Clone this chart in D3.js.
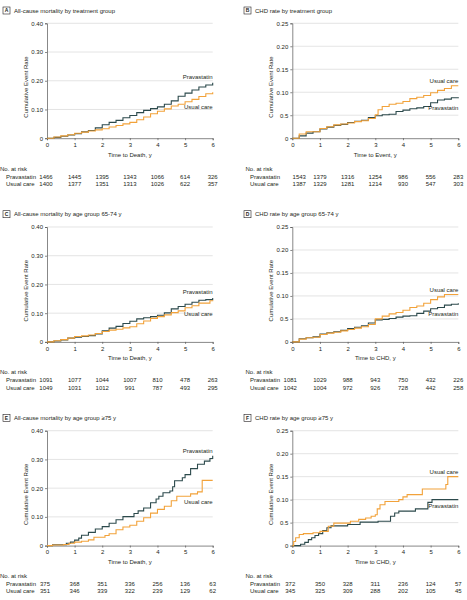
<!DOCTYPE html>
<html><head><meta charset="utf-8">
<script src="https://cdn.jsdelivr.net/npm/d3@7"></script>
<style>
body{margin:0;background:#fff}
svg{display:block}
text{font-family:"Liberation Sans","Arial",sans-serif;fill:#231f20}
</style>
</head><body><svg id="c" width="467" height="600"></svg>
<script>
// ---------- data ----------
const years = [0,1,2,3,4,5,6];
const mortTickValues = [0,0.10,0.20,0.30,0.40];
const mortTickLabels = ["0","0.10","0.20","0.30","0.40"];
const chdTickValues = [0,0.05,0.10,0.15,0.20,0.25];
const chdTickLabels = ["0","0.5","0.10","0.15","0.20","0.25"];
const groups = ["Pravastatin","Usual care"];

const aPravastatin = [[0,0],[0.25,0.003],[0.5,0.007],[0.75,0.011],[1,0.016],[1.25,0.022],[1.5,0.027],[1.75,0.036],[2,0.047],[2.25,0.055],[2.5,0.062],[2.75,0.071],[3,0.079],[3.25,0.089],[3.5,0.097],[3.75,0.103],[4,0.109],[4.25,0.118],[4.5,0.130],[4.75,0.146],[5,0.157],[5.25,0.168],[5.5,0.178],[5.75,0.185],[6,0.193]];
const aUsual = [[0,0],[0.25,0.004],[0.5,0.008],[0.75,0.012],[1,0.017],[1.25,0.021],[1.5,0.025],[1.75,0.029],[2,0.033],[2.25,0.039],[2.5,0.044],[2.75,0.050],[3,0.055],[3.25,0.064],[3.5,0.074],[3.75,0.085],[4,0.094],[4.25,0.102],[4.5,0.112],[4.75,0.118],[5,0.127],[5.25,0.135],[5.5,0.145],[5.75,0.155],[6,0.160]];
const bPravastatin = [[0,0],[0.25,0.005],[0.5,0.011],[0.75,0.014],[1,0.020],[1.25,0.024],[1.5,0.028],[1.75,0.030],[2,0.034],[2.25,0.037],[2.5,0.039],[2.75,0.045],[3,0.049],[3.25,0.051],[3.5,0.052],[3.75,0.058],[4,0.061],[4.25,0.064],[4.5,0.066],[4.75,0.069],[5,0.077],[5.25,0.083],[5.5,0.085],[5.75,0.088],[6,0.089]];
const bUsual = [[0,0],[0.25,0.009],[0.5,0.014],[0.75,0.014],[1,0.021],[1.25,0.025],[1.5,0.029],[1.75,0.031],[2,0.033],[2.25,0.036],[2.5,0.038],[2.75,0.043],[3,0.051],[3.1,0.062],[3.25,0.069],[3.5,0.074],[3.75,0.076],[4,0.080],[4.25,0.086],[4.5,0.089],[4.75,0.093],[5,0.099],[5.25,0.104],[5.5,0.108],[5.75,0.114],[6,0.114]];
const cPravastatin = [[0,0],[0.25,0.003],[0.5,0.007],[0.75,0.013],[1,0.016],[1.25,0.019],[1.5,0.022],[1.75,0.028],[2,0.039],[2.25,0.048],[2.5,0.054],[2.75,0.064],[3,0.072],[3.25,0.080],[3.5,0.084],[3.75,0.088],[4,0.093],[4.25,0.101],[4.5,0.115],[4.75,0.123],[5,0.131],[5.25,0.138],[5.5,0.145],[5.75,0.147],[6,0.153]];
const cUsual = [[0,0],[0.25,0.004],[0.5,0.008],[0.75,0.013],[1,0.019],[1.25,0.021],[1.5,0.024],[1.75,0.029],[2,0.036],[2.25,0.041],[2.5,0.044],[2.75,0.049],[3,0.053],[3.25,0.063],[3.5,0.073],[3.75,0.082],[4,0.088],[4.25,0.094],[4.5,0.102],[4.75,0.108],[5,0.119],[5.25,0.126],[5.5,0.135],[5.9,0.143],[6,0.145]];
const dPravastatin = [[0,0],[0.25,0.007],[0.5,0.009],[0.75,0.011],[1,0.017],[1.25,0.020],[1.5,0.022],[1.75,0.025],[2,0.029],[2.25,0.032],[2.5,0.035],[2.75,0.041],[3,0.048],[3.25,0.049],[3.5,0.051],[3.75,0.054],[4,0.056],[4.25,0.057],[4.5,0.062],[4.75,0.067],[5,0.072],[5.25,0.075],[5.5,0.080],[5.75,0.082],[6,0.084]];
const dUsual = [[0,0],[0.25,0.006],[0.5,0.009],[0.75,0.010],[1,0.016],[1.25,0.019],[1.5,0.021],[1.75,0.024],[2,0.027],[2.25,0.030],[2.5,0.033],[2.75,0.038],[3,0.050],[3.25,0.056],[3.5,0.061],[3.75,0.064],[4,0.069],[4.25,0.075],[4.5,0.078],[4.75,0.084],[5,0.092],[5.25,0.098],[5.5,0.103],[6,0.103]];
const ePravastatin = [[0,0],[0.2,0.003],[0.7,0.008],[0.85,0.012],[1,0.019],[1.15,0.026],[1.25,0.036],[1.5,0.046],[1.75,0.058],[2,0.066],[2.25,0.078],[2.5,0.090],[2.75,0.101],[3.15,0.112],[3.3,0.121],[3.5,0.131],[3.75,0.149],[3.95,0.162],[4.05,0.172],[4.2,0.184],[4.45,0.190],[4.55,0.205],[4.62,0.226],[4.9,0.236],[5.0,0.247],[5.2,0.268],[5.45,0.283],[5.7,0.294],[5.9,0.303],[6,0.313]];
const eUsual = [[0,0],[0.2,0.002],[0.6,0.004],[0.8,0.008],[1,0.012],[1.25,0.015],[1.5,0.020],[1.7,0.029],[2.1,0.035],[2.25,0.041],[2.5,0.055],[2.75,0.065],[3,0.071],[3.25,0.085],[3.5,0.097],[3.75,0.113],[4,0.126],[4.25,0.137],[4.5,0.156],[4.7,0.172],[5.2,0.180],[5.45,0.187],[5.62,0.227],[6,0.227]];
const fPravastatin = [[0,0],[0.3,0.003],[0.45,0.007],[0.58,0.013],[0.7,0.017],[0.82,0.022],[0.95,0.026],[1.1,0.033],[1.25,0.039],[1.4,0.043],[2.0,0.046],[2.45,0.051],[3.1,0.053],[3.55,0.064],[3.7,0.071],[3.85,0.075],[4.45,0.080],[4.9,0.094],[5.05,0.100],[6,0.100]];
const fUsual = [[0,0],[0.05,0.009],[0.12,0.017],[0.25,0.024],[0.4,0.026],[0.75,0.028],[1.0,0.031],[1.3,0.042],[1.5,0.049],[2.1,0.053],[2.4,0.057],[2.65,0.060],[2.85,0.064],[3.0,0.067],[3.07,0.080],[3.17,0.089],[3.35,0.096],[3.85,0.100],[4.0,0.106],[4.15,0.111],[4.7,0.123],[5.55,0.133],[5.62,0.150],[6,0.150]];

const aRiskPravastatin = [1466,1445,1395,1343,1066,614,326];
const aRiskUsual = [1400,1377,1351,1313,1026,622,357];
const bRiskPravastatin = [1543,1379,1316,1254,986,556,283];
const bRiskUsual = [1387,1329,1281,1214,930,547,303];
const cRiskPravastatin = [1091,1077,1044,1007,810,478,263];
const cRiskUsual = [1049,1031,1012,991,787,493,295];
const dRiskPravastatin = [1081,1029,988,943,750,432,226];
const dRiskUsual = [1042,1004,972,926,728,442,258];
const eRiskPravastatin = [375,368,351,336,256,136,63];
const eRiskUsual = [351,346,339,322,239,129,62];
const fRiskPravastatin = [372,350,328,311,236,124,57];
const fRiskUsual = [345,325,309,288,202,105,45];

const panelLetters = ["A","B","C","D","E","F"];
const panelTitles = ["All-cause mortality by treatment group","CHD rate by treatment group","All-cause mortality by age group 65-74 y","CHD rate by age group 65-74 y","All-cause mortality by age group \u226575 y","CHD rate by age group \u226575 y"];
const xTitles = ["Time to Death, y","Time to Event, y","Time to Death, y","Time to CHD, y","Time to Death, y","Time to CHD, y"];

// ---------- layout ----------
const COLORS = {p:"#2c4a4c", u:"#f2a23a"};
const cols = [{x0:47, x1:212.7, lab:6, noRisk:0}, {x0:292.3, x1:458.3, lab:250, noRisk:245.5}];
const rowOff = [0, 203.7, 407.4];
const panels = [
  {s:[aPravastatin,aUsual], r:[aRiskPravastatin,aRiskUsual], ymax:0.40, tv:mortTickValues, tl:mortTickLabels, ly:[0.212,0.108], first:-1},
  {s:[bPravastatin,bUsual], r:[bRiskPravastatin,bRiskUsual], ymax:0.25, tv:chdTickValues, tl:chdTickLabels, ly:[0.066,0.125], first:7},
  {s:[cPravastatin,cUsual], r:[cRiskPravastatin,cRiskUsual], ymax:0.40, tv:mortTickValues, tl:mortTickLabels, ly:[0.173,0.097], first:-1},
  {s:[dPravastatin,dUsual], r:[dRiskPravastatin,dRiskUsual], ymax:0.25, tv:chdTickValues, tl:chdTickLabels, ly:[0.062,0.114], first:-2},
  {s:[ePravastatin,eUsual], r:[eRiskPravastatin,eRiskUsual], ymax:0.40, tv:mortTickValues, tl:mortTickLabels, ly:[0.329,0.152], first:-2},
  {s:[fPravastatin,fUsual], r:[fRiskPravastatin,fRiskUsual], ymax:0.25, tv:chdTickValues, tl:chdTickLabels, ly:[0.086,0.160], first:-2}
];

const svg = d3.select("#c");
const FS = 6;

panels.forEach((p,i)=>{
  const col = cols[i%2], off = rowOff[Math.floor(i/2)];
  const top = 23.3+off, bot = 138.2+off;
  const x = d3.scaleLinear().domain([0,6]).range([col.x0,col.x1]);
  const y = d3.scaleLinear().domain([0,p.ymax]).range([bot,top]);
  const g = svg.append("g");
  const bx = i%2===0 ? 3 : 244;

  // panel letter box + title
  g.append("rect").attr("x",bx).attr("y",off+7).attr("width",7).attr("height",7)
    .attr("fill","#fff").attr("stroke","#231f20").attr("stroke-width",0.6);
  g.append("text").attr("x",bx+3.5).attr("y",off+10.6).attr("dy","0.35em").attr("text-anchor","middle")
    .attr("font-size",5).attr("font-weight","bold").text(panelLetters[i]);
  g.append("text").attr("x",bx+11).attr("y",off+10.6).attr("dy","0.35em").attr("font-size",6).text(panelTitles[i]);

  // grid
  g.selectAll(".grid").data(p.tv.filter(v=>v>0)).join("line")
    .attr("x1",col.x0).attr("x2",col.x1).attr("y1",d=>y(d)).attr("y2",d=>y(d))
    .attr("stroke","#d9d9d9").attr("stroke-width",0.7);

  // y axis
  const ya = d3.axisLeft(y).tickValues(p.tv).tickFormat((d,k)=>p.tl[k]).tickSize(2).tickPadding(2);
  const yg = g.append("g").attr("transform",`translate(${col.x0},0)`).call(ya);
  yg.select(".domain").attr("stroke","#555").attr("stroke-width",0.7);
  yg.selectAll(".tick line").attr("stroke","#555").attr("stroke-width",0.7);
  yg.selectAll(".tick text").attr("font-size",FS).attr("font-family",null);

  // x axis
  const xa = d3.axisBottom(x).tickValues(years).tickFormat(d3.format("d")).tickSize(2).tickPadding(2.5);
  const xg = g.append("g").attr("transform",`translate(0,${bot})`).call(xa);
  xg.select(".domain").attr("stroke","#555").attr("stroke-width",0.7);
  xg.selectAll(".tick line").attr("stroke","#555").attr("stroke-width",0.7);
  xg.selectAll(".tick text").attr("font-size",FS).attr("font-family",null);

  // axis titles
  g.append("text").attr("x",x(3)).attr("y",off+154.6).attr("dy","0.35em").attr("text-anchor","middle")
    .attr("font-size",FS).text(xTitles[i]);
  const yc = off+87;
  g.append("text").attr("transform",`translate(${col.x0-21.5},${yc}) rotate(-90)`).attr("dy","0.35em")
    .attr("text-anchor","middle").attr("font-size",FS).text("Cumulative Event Rate");

  // curves
  const line = d3.line().x(d=>x(d[0])).y(d=>y(d[1])).curve(d3.curveStepAfter);
  [p.s[0],p.s[1]].forEach((s,k)=>{
    g.append("path").datum(s).attr("d",line).attr("fill","none")
      .attr("stroke",k===0?COLORS.p:COLORS.u).attr("stroke-width",1.1);
  });
  // curve labels
  groups.forEach((name,k)=>{
    g.append("text").attr("x",x(6)).attr("y",y(p.ly[k])).attr("dy","0.35em").attr("text-anchor","end")
      .attr("font-size",FS).text(name);
  });

  // number at risk
  g.append("text").attr("x",col.noRisk).attr("y",off+168.6).attr("dy","0.35em").attr("font-size",FS).text("No. at risk");
  groups.forEach((name,k)=>{
    const ry = off+176.6+k*7.1;
    g.append("text").attr("x",col.lab).attr("y",ry).attr("dy","0.35em").attr("font-size",FS).text(name);
    g.selectAll(null).data(p.r[k]).join("text")
      .attr("x",(d,j)=>x(years[j])+(j===0?p.first:0)).attr("y",ry).attr("dy","0.35em")
      .attr("text-anchor","middle").attr("font-size",FS).text(d=>d);
  });
});
</script>
</body></html>
